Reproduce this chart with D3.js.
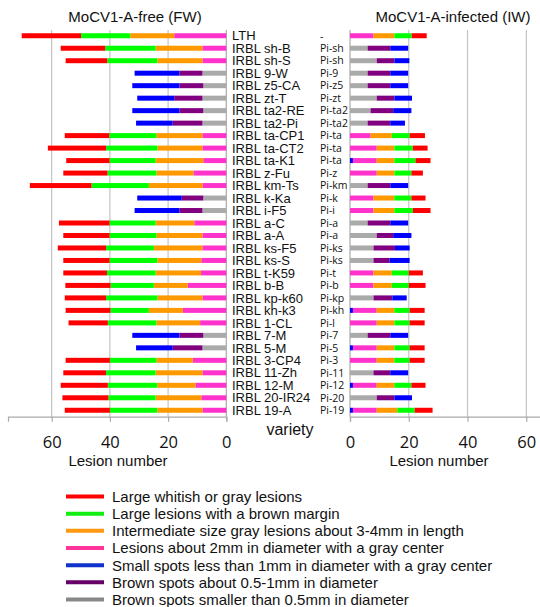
<!DOCTYPE html>
<html><head><meta charset="utf-8">
<script src="https://cdn.jsdelivr.net/npm/d3@7"></script>
<style>body{margin:0;background:#fff}svg{display:block}</style>
</head><body>
<svg id="c" width="540" height="607"></svg>
<script>
const varieties = ["LTH","IRBL sh-B","IRBL sh-S","IRBL 9-W","IRBL z5-CA","IRBL zt-T","IRBL ta2-RE","IRBL ta2-Pi","IRBL ta-CP1","IRBL ta-CT2","IRBL ta-K1","IRBL z-Fu","IRBL km-Ts","IRBL k-Ka","IRBL i-F5","IRBL a-C","IRBL a-A","IRBL ks-F5","IRBL ks-S","IRBL t-K59","IRBL b-B","IRBL kp-k60","IRBL kh-k3","IRBL 1-CL","IRBL 7-M","IRBL 5-M","IRBL 3-CP4","IRBL 11-Zh","IRBL 12-M","IRBL 20-IR24","IRBL 19-A"];
const genes = ["-","Pi-sh","Pi-sh","Pi-9","Pi-z5","Pi-zt","Pi-ta2","Pi-ta2","Pi-ta","Pi-ta","Pi-ta","Pi-z","Pi-km","Pi-k","Pi-i","Pi-a","Pi-a","Pi-ks","Pi-ks","Pi-t","Pi-b","Pi-kp","Pi-kh","Pi-l","Pi-7","Pi-5","Pi-3","Pi-11","Pi-12","Pi-20","Pi-19"];

// Stack order from 0 outward: gray, purple, blue, pink, orange, green, red
const seriesKeys = ["gray","purple","blue","pink","orange","green","red"];
const seriesLabels = {
  red:"Large whitish or gray lesions",
  green:"Large lesions with a brown margin",
  orange:"Intermediate size gray lesions about 3-4mm in length",
  pink:"Lesions about 2mm in diameter with a gray center",
  blue:"Small spots less than 1mm in diameter with a gray center",
  purple:"Brown spots about 0.5-1mm in diameter",
  gray:"Brown spots smaller than 0.5mm in diameter"
};
const legendOrder = ["red","green","orange","pink","blue","purple","gray"];

// MoCV1-A-free (FW)
const fwGray   = [0,0,0,8.2,7.9,8.2,7.9,8.2,0,0,0,0,0,7.9,8.2,0,0,0,0,0,0,0,0,0,7.9,8.2,0,0,0,0,0];
const fwPurple = [0,0,0,7.9,8.2,9.7,8.2,10.2,0,0,0,0,0,7.4,7.9,0,0,0,0,0,0,0,0,0,8.2,10.2,0,0,0,0,0];
const fwBlue   = [0,0,0,15.4,16.2,12.7,16.2,12.6,0,0,0,0,0,15.3,15.4,0,0,0,0,0,0,0,0,0,16.2,12.6,0,0,0,0,0];
const fwPink   = [17.9,8.2,8.2,0,0,0,0,0,8.2,8.2,7.9,11.3,8.2,0,0,11.0,8.2,8.2,8.6,8.7,13.3,8.2,14.9,9.0,0,0,11.5,8.2,10.6,8.6,8.2];
const fwOrange = [15.1,16.1,15.5,0,0,0,0,0,15.8,15.5,16.4,12.7,18.4,0,0,13.3,15.8,16.7,15.1,15.6,11.6,15.5,11.7,15.0,0,0,12.5,16.1,13.1,15.7,15.5];
const fwGreen  = [16.9,17.3,17.2,0,0,0,0,0,16.2,17.6,15.8,16.8,19.7,0,0,15.8,16.1,16.4,16.4,16.7,14.9,17.6,13.2,16.7,0,0,16.0,17.0,17.0,16.2,16.3];
const fwRed    = [20.4,15.3,14.3,0,0,0,0,0,15.3,20.0,14.9,15.2,21.2,0,0,17.4,15.9,16.6,15.9,15.0,15.5,14.2,15.4,13.5,0,0,15.2,14.7,16.2,15.8,15.5];

// MoCV1-A-infected (IW)
const iwGray   = [0,6.0,9.1,6.0,6.0,9.1,7.0,6.0,0,0,0,0,6.0,0,0,6.0,9.1,8.0,8.0,0,0,8.0,0,0,6.0,0,0,8.0,0,9.1,0];
const iwPurple = [0,7.7,6.0,7.7,7.7,6.0,7.7,7.7,0,0,0,0,7.7,0,0,7.7,5.6,7.3,5.4,0,0,6.4,0,0,7.7,0,0,5.7,0,6.0,0];
const iwBlue   = [0,6.1,5.1,6.1,6.1,6.0,6.2,5.0,0,0,1.0,0,6.1,0,0,6.1,6.2,5.0,6.9,0,0,4.9,1.0,0,6.1,1.0,0,6.1,1.0,6.0,1.0];
const iwPink   = [8.0,0,0,0,0,0,0,0,7.0,9.1,8.1,9.1,0,8.0,8.0,0,0,0,0,8.0,8.0,0,8.1,9.1,0,8.1,9.1,0,8.1,0,8.1];
const iwOrange = [7.1,0,0,0,0,0,0,0,7.2,6.0,6.0,6.0,0,7.1,7.1,0,0,0,0,6.2,6.2,0,6.0,6.0,0,6.0,6.0,0,6.0,0,7.0];
const iwGreen  = [5.9,0,0,0,0,0,0,0,6.1,6.3,7.2,5.8,0,5.8,6.3,0,0,0,0,5.8,5.8,0,5.2,5.2,0,5.2,5.2,0,5.8,0,5.9];
const iwRed    = [5.1,0,0,0,0,0,0,0,5.2,5.0,5.1,3.9,0,4.8,6.0,0,0,0,0,4.8,5.7,0,5.1,5.1,0,5.1,5.1,0,4.8,0,6.1];

const xTicks = [0,20,40,60];

const barColor = {red:"#ff0000",green:"#00ff00",orange:"#ff9900",pink:"#ff33cc",blue:"#0000ff",purple:"#800080",gray:"#aaaaaa"};
const legendColor = {red:"#ff0000",green:"#11ee11",orange:"#ff9911",pink:"#ff3399",blue:"#1133cc",purple:"#660066",gray:"#888888"};

const fwSeries = {gray:fwGray,purple:fwPurple,blue:fwBlue,pink:fwPink,orange:fwOrange,green:fwGreen,red:fwRed};
const iwSeries = {gray:iwGray,purple:iwPurple,blue:iwBlue,pink:iwPink,orange:iwOrange,green:iwGreen,red:iwRed};

function toRows(series){
  return varieties.map((v,i)=>{const o={variety:v}; seriesKeys.forEach(k=>o[k]=series[k][i]); return o;});
}

const svg = d3.select("#c");
const axisY = 416.7;
const plotTop = 30;
const y = d3.scaleBand().domain(varieties).range([29.5,416.5]).paddingInner(0.6).paddingOuter(0.3);

const xL = d3.scaleLinear().domain([0,75]).range([226.3,8]);
const xR = d3.scaleLinear().domain([0,65]).range([350,541]);

const stack = d3.stack().keys(seriesKeys);

function panel(xs, series, dir){
  const g = svg.append("g");
  // gridlines
  g.selectAll("line.grid").data(xTicks).join("line")
    .attr("x1",d=>xs(d)).attr("x2",d=>xs(d))
    .attr("y1",plotTop).attr("y2",axisY)
    .attr("stroke",d=>d===0?"#aaaaaa":"#c4c4c4").attr("stroke-width",1.2);
  const st = stack(toRows(series));
  g.selectAll("g.s").data(st).join("g")
    .attr("fill",d=>barColor[d.key])
    .selectAll("rect").data(d=>d).join("rect")
    .attr("x",d=>Math.min(xs(d[0]),xs(d[1])))
    .attr("width",d=>Math.abs(xs(d[1])-xs(d[0])))
    .attr("y",d=>y(d.data.variety))
    .attr("height",y.bandwidth());
  // axis
  const ax = g.append("g").attr("transform",`translate(0,${axisY})`)
    .call(d3.axisBottom(xs).tickValues(xTicks).tickSize(5).tickFormat(d3.format("d")));
  ax.select(".domain").attr("stroke","#aaaaaa").attr("stroke-width",1.2);
  ax.selectAll(".tick line").attr("stroke","#aaaaaa").attr("stroke-width",1.2);
  ax.selectAll(".tick text").attr("y",null).attr("dy",null)
    .attr("transform","translate(0,31)")
    .attr("font-family","'Open Sans', sans-serif").attr("font-size",16.5).attr("fill","#111");
  return g;
}

panel(xL, fwSeries, -1);
panel(xR, iwSeries, 1);

// variety labels
svg.append("g").selectAll("text").data(varieties).join("text")
  .attr("x",232).attr("y",d=>y(d)+y.bandwidth()/2)
  .attr("dy","0.36em")
  .attr("font-family","'Liberation Sans', Arial, sans-serif").attr("font-size",13).attr("fill","#111")
  .text(d=>d);
// gene labels
svg.append("g").selectAll("text").data(genes).join("text")
  .attr("x",320).attr("y",(d,i)=>y(varieties[i])+y.bandwidth()/2)
  .attr("dy","0.36em")
  .attr("font-family","'Open Sans', sans-serif").attr("font-size",10.5).attr("fill","#111")
  .text(d=>d);

// titles
svg.append("text").attr("x",135).attr("y",22).attr("text-anchor","middle")
  .attr("font-family","'Liberation Sans', Arial, sans-serif").attr("font-size",15).attr("fill","#111")
  .text("MoCV1-A-free (FW)");
svg.append("text").attr("x",453).attr("y",22).attr("text-anchor","middle")
  .attr("font-family","'Liberation Sans', Arial, sans-serif").attr("font-size",15).attr("fill","#111")
  .text("MoCV1-A-infected (IW)");
svg.append("text").attr("x",290).attr("y",435).attr("text-anchor","middle")
  .attr("font-family","'Liberation Sans', Arial, sans-serif").attr("font-size",16).attr("fill","#111")
  .text("variety");
svg.append("text").attr("x",118).attr("y",466).attr("text-anchor","middle")
  .attr("font-family","'Liberation Sans', Arial, sans-serif").attr("font-size",15).attr("fill","#111")
  .text("Lesion number");
svg.append("text").attr("x",439).attr("y",466).attr("text-anchor","middle")
  .attr("font-family","'Liberation Sans', Arial, sans-serif").attr("font-size",15).attr("fill","#111")
  .text("Lesion number");

// legend
const lg = svg.append("g");
const ly = d3.scalePoint().domain(legendOrder).range([496.5,599.5]);
lg.selectAll("line").data(legendOrder).join("line")
  .attr("x1",66).attr("x2",104).attr("y1",d=>ly(d)).attr("y2",d=>ly(d))
  .attr("stroke",d=>legendColor[d]).attr("stroke-width",4);
lg.selectAll("text").data(legendOrder).join("text")
  .attr("x",112).attr("y",d=>ly(d)).attr("dy","0.36em")
  .attr("font-family","'Liberation Sans', Arial, sans-serif").attr("font-size",15).attr("fill","#111")
  .text(d=>seriesLabels[d]);
</script>
</body></html>
